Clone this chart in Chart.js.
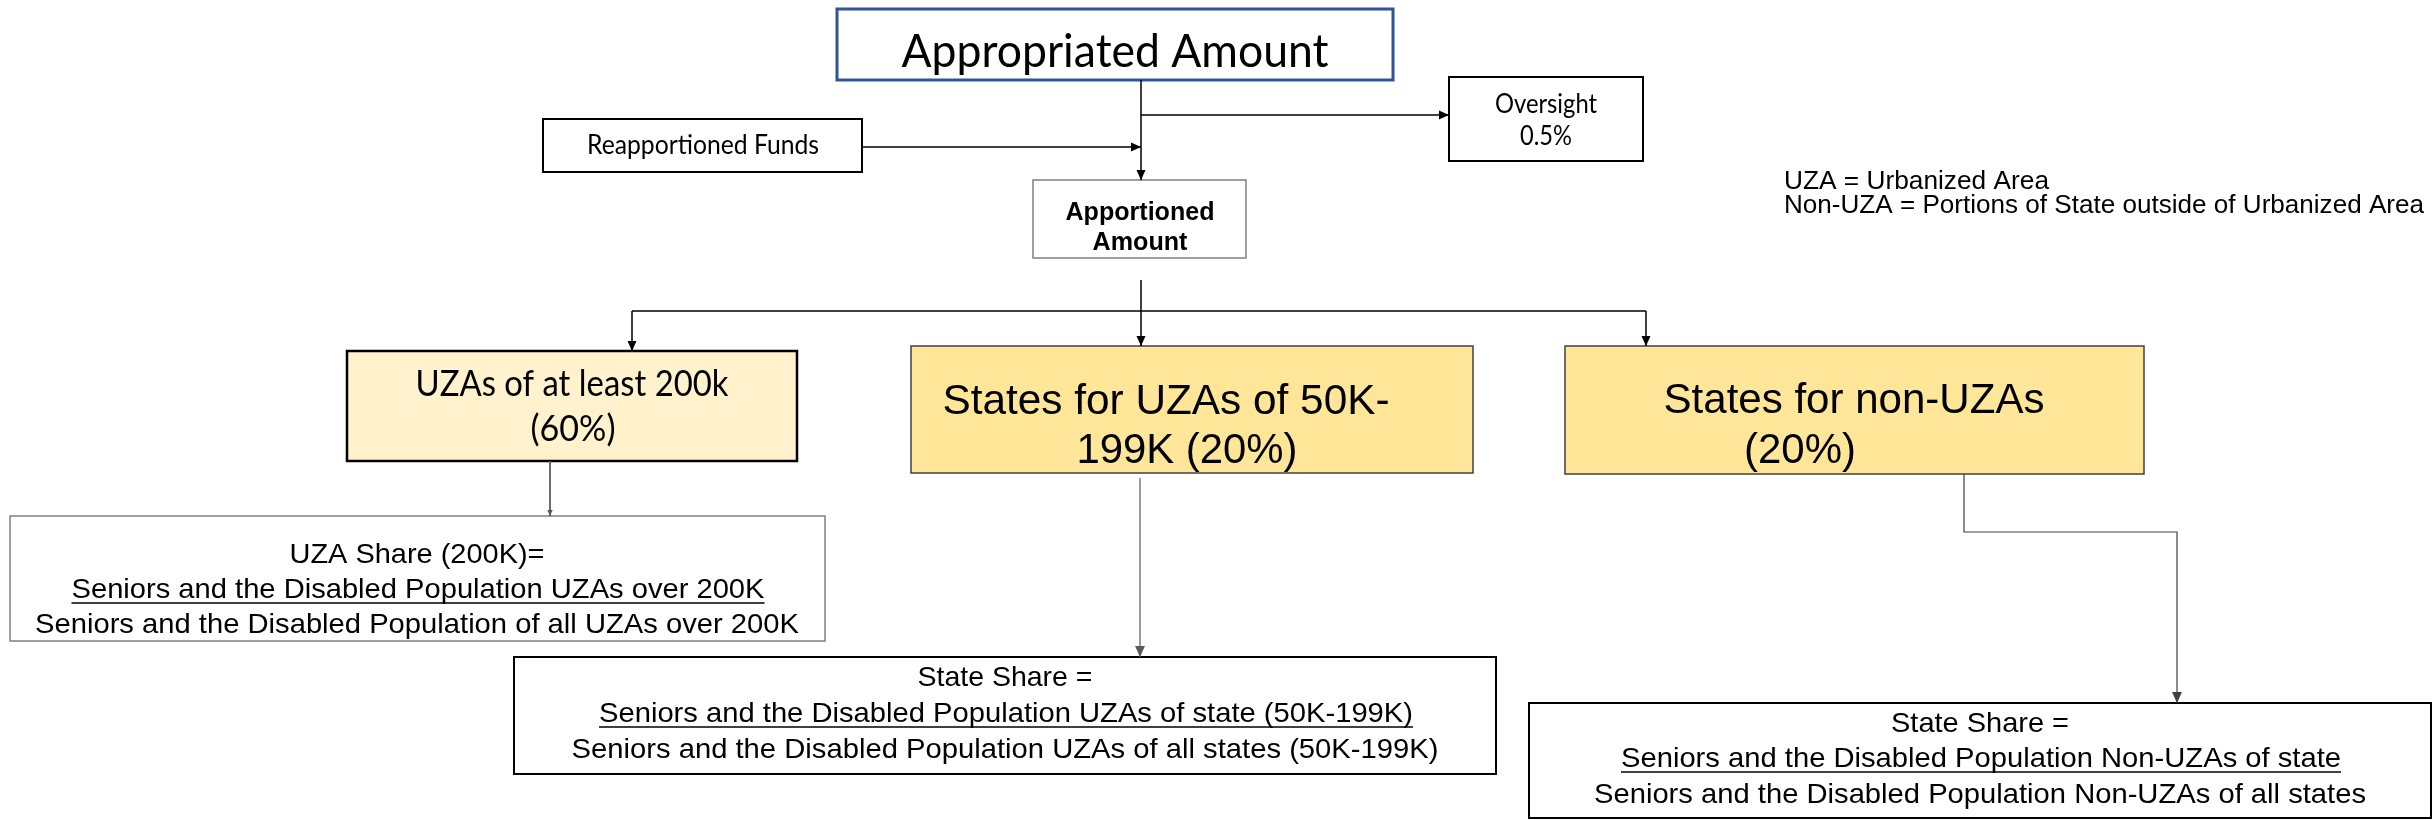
<!DOCTYPE html>
<html>
<head>
<meta charset="utf-8">
<script src="https://cdn.jsdelivr.net/npm/chart.js@4.4.1/dist/chart.umd.min.js"></script>
<style>
  html, body { margin: 0; padding: 0; background: #fff; }
  #wrap { width: 2435px; height: 820px; }
</style>
</head>
<body>
<div id="wrap"><canvas id="flow" width="2435" height="820"></canvas></div>
<script>
// Box texts
const headLabel = ['Appropriated Amount'];
const reapportionedLabel = ['Reapportioned Funds'];
const oversightLabel = ['Oversight', '0.5%'];
const apportionedLabel = ['Apportioned', 'Amount'];
const tierLabels = [
  ['UZAs of at least 200k', '(60%)'],
  ['States for UZAs of 50K-', '199K (20%)'],
  ['States for non-UZAs', '(20%)']
];
const shareLabels = [
  ['UZA Share (200K)=',
   'Seniors and the Disabled Population UZAs over 200K',
   'Seniors and the Disabled Population of all UZAs over 200K'],
  ['State Share =',
   'Seniors and the Disabled Population UZAs of state (50K-199K)',
   'Seniors and the Disabled Population UZAs of all states (50K-199K)'],
  ['State Share =',
   'Seniors and the Disabled Population Non-UZAs of state',
   'Seniors and the Disabled Population Non-UZAs of all states']
];
const glossaryLines = [
  'UZA = Urbanized Area',
  'Non-UZA = Portions of State outside of Urbanized Area'
];

// Layout (canvas units = scale units)
const CALIBRI = 'Lato, "Open Sans", sans-serif';
const ARIAL = '"Liberation Sans", Arial, sans-serif';

const boxes = [
  { label: headLabel, x0: 837, x1: 1393, y0: 9, y1: 80, stroke: '#2f5597', lw: 3,
    font: CALIBRI, size: 46, lines: [[1115, 67, 427]] },
  { label: reapportionedLabel, x0: 543, x1: 862, y0: 119, y1: 172, stroke: '#000', lw: 2,
    font: CALIBRI, size: 26, lines: [[703, 154, 232]] },
  { label: oversightLabel, x0: 1449, x1: 1643, y0: 77, y1: 161, stroke: '#000', lw: 2,
    font: CALIBRI, size: 26, lines: [[1546, 113, 102], [1546, 145, 52]] },
  { label: apportionedLabel, x0: 1033, x1: 1246, y0: 180, y1: 258, stroke: '#7f7f7f', lw: 1.5,
    font: ARIAL, bold: true, size: 25, lines: [[1140, 220, 149], [1140, 250, 95]] },
  { label: tierLabels[0], x0: 347, x1: 797, y0: 351, y1: 461, fill: '#fff2cc', stroke: '#000', lw: 2.5,
    font: CALIBRI, size: 37, lines: [[572, 396, 313], [573, 441, 85]] },
  { label: tierLabels[1], x0: 911, x1: 1473, y0: 346, y1: 473, fill: '#ffe699', stroke: '#404040', lw: 1.5,
    font: ARIAL, size: 43, lines: [[1166, 414, 447], [1187, 463, 221]] },
  { label: tierLabels[2], x0: 1565, x1: 2144, y0: 346, y1: 474, fill: '#ffe699', stroke: '#404040', lw: 1.5,
    font: ARIAL, size: 43, lines: [[1854, 413, 381], [1800, 463, 112]] },
  { label: shareLabels[0], x0: 10, x1: 825, y0: 516, y1: 641, stroke: '#7f7f7f', lw: 1.5,
    font: ARIAL, size: 28, underline: 1, lines: [[417, 563, 255], [418, 598, 693], [417, 633, 764]] },
  { label: shareLabels[1], x0: 514, x1: 1496, y0: 657, y1: 774, stroke: '#000', lw: 2,
    font: ARIAL, size: 28, underline: 1, lines: [[1005, 686, 175], [1006, 722, 814], [1005, 758, 867]] },
  { label: shareLabels[2], x0: 1529, x1: 2431, y0: 703, y1: 818, stroke: '#000', lw: 2,
    font: ARIAL, size: 28, underline: 1, lines: [[1980, 732, 178], [1981, 767, 720], [1980, 803, 772]] }
];

const glossary = { x: 1784, font: ARIAL, size: 25, lines: [[189, 265], [213, 640]] };

// Connectors: polyline points, arrow at the last point
const connectors = [
  { pts: [[1141, 80], [1141, 180]], arrow: 10 },
  { pts: [[1141, 115], [1449, 115]], arrow: 10 },
  { pts: [[862, 147], [1141, 147]], arrow: 10 },
  { pts: [[1141, 280], [1141, 311]], arrow: 0 },
  { pts: [[632, 311], [1646, 311]], arrow: 0 },
  { pts: [[632, 311], [632, 351]], arrow: 10 },
  { pts: [[1141, 311], [1141, 346]], arrow: 10 },
  { pts: [[1646, 311], [1646, 346]], arrow: 10 },
  { pts: [[550, 461], [550, 516]], arrow: 6, color: '#595959', w: 1 },
  { pts: [[1140, 478], [1140, 657]], arrow: 11, color: '#595959', w: 1.2 },
  { pts: [[1964, 474], [1964, 532], [2177, 532], [2177, 703]], arrow: 11, color: '#404040', w: 1.2 }
];

function fitText(ctx, text, cx, base, targetW, font, align) {
  ctx.font = font;
  const w = ctx.measureText(text).width;
  const sx = targetW / w;
  ctx.save();
  ctx.translate(cx, base);
  ctx.scale(sx, 1);
  ctx.textAlign = align || 'center';
  ctx.textBaseline = 'alphabetic';
  ctx.fillStyle = '#000';
  ctx.fillText(text, 0, 0);
  ctx.restore();
}

const flowPlugin = {
  id: 'flow',
  beforeDatasetsDraw(chart) {
    const { ctx, scales: { x, y } } = chart;
    ctx.save();
    boxes.forEach(b => {
      const px0 = x.getPixelForValue(b.x0), px1 = x.getPixelForValue(b.x1);
      const py0 = y.getPixelForValue(b.y0), py1 = y.getPixelForValue(b.y1);
      ctx.fillStyle = b.fill || '#fff';
      ctx.fillRect(px0, py0, px1 - px0, py1 - py0);
      ctx.lineWidth = b.lw;
      ctx.strokeStyle = b.stroke;
      ctx.strokeRect(px0, py0, px1 - px0, py1 - py0);
    });
    ctx.restore();
  },
  afterDatasetsDraw(chart) {
    const { ctx, scales: { x, y } } = chart;
    ctx.save();
    // arrowheads at the end of each connector
    chart.data.datasets.forEach((ds, i) => {
      const size = connectors[i].arrow;
      if (!size) return;
      const pts = chart.getDatasetMeta(i).data;
      const a = pts[pts.length - 2], b = pts[pts.length - 1];
      const ang = Math.atan2(b.y - a.y, b.x - a.x);
      const half = size * 0.45;
      ctx.fillStyle = ds.borderColor;
      ctx.beginPath();
      ctx.moveTo(b.x, b.y);
      ctx.lineTo(b.x - size * Math.cos(ang) + half * Math.sin(ang), b.y - size * Math.sin(ang) - half * Math.cos(ang));
      ctx.lineTo(b.x - size * Math.cos(ang) - half * Math.sin(ang), b.y - size * Math.sin(ang) + half * Math.cos(ang));
      ctx.closePath();
      ctx.fill();
    });
    // box texts
    boxes.forEach(b => {
      const font = (b.bold ? 'bold ' : '') + b.size + 'px ' + b.font;
      b.label.forEach((txt, k) => {
        const [cx, base, w] = b.lines[k];
        const px = x.getPixelForValue(cx), py = y.getPixelForValue(base);
        fitText(ctx, txt, px, py, w, font);
        if (b.underline === k) {
          ctx.strokeStyle = '#000';
          ctx.lineWidth = 1.5;
          ctx.beginPath();
          ctx.moveTo(px - w / 2, py + 5);
          ctx.lineTo(px + w / 2, py + 5);
          ctx.stroke();
        }
      });
    });
    // glossary
    glossaryLines.forEach((txt, k) => {
      const [base, w] = glossary.lines[k];
      fitText(ctx, txt, x.getPixelForValue(glossary.x), y.getPixelForValue(base), w,
        glossary.size + 'px ' + glossary.font, 'left');
    });
    ctx.restore();
  }
};

new Chart(document.getElementById('flow'), {
  type: 'scatter',
  data: {
    datasets: connectors.map(c => ({
      data: c.pts.map(p => ({ x: p[0], y: p[1] })),
      showLine: true,
      borderColor: c.color || '#000',
      borderWidth: c.w || 1.5,
      pointRadius: 0,
      tension: 0
    }))
  },
  options: {
    responsive: false,
    devicePixelRatio: 1,
    animation: false,
    layout: { padding: 0 },
    plugins: { legend: { display: false }, tooltip: { enabled: false } },
    scales: {
      x: { type: 'linear', min: 0, max: 2435, display: false },
      y: { type: 'linear', min: 0, max: 820, reverse: true, display: false }
    }
  },
  plugins: [flowPlugin]
});
</script>
</body>
</html>
